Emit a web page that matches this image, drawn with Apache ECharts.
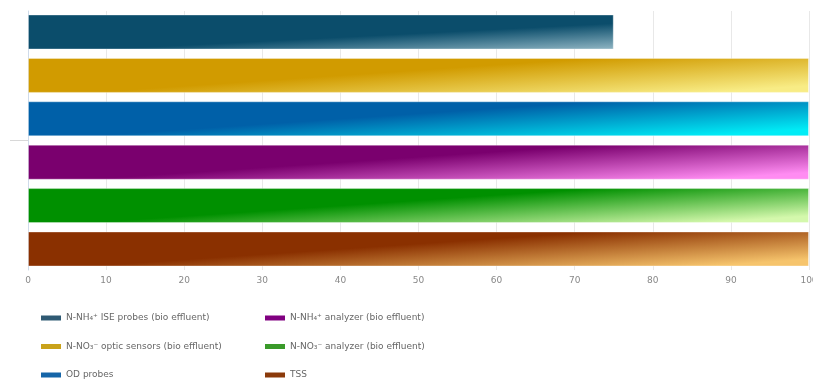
<!DOCTYPE html>
<html>
<head>
<meta charset="utf-8">
<script src="https://cdn.jsdelivr.net/npm/echarts@6/dist/echarts.min.js"></script>
<style>html,body{margin:0;padding:0;background:#fff;}#chart{width:813px;height:382px;}</style>
</head>
<body>
<div id="chart"></div>
<script>
var categories = [''];
var seriesNames = [
  'N-NH\u2084\u207A ISE probes (bio effluent)',
  'N-NO\u2083\u207B optic sensors (bio effluent)',
  'OD probes',
  'N-NH\u2084\u207A analyzer (bio effluent)',
  'N-NO\u2083\u207B analyzer (bio effluent)',
  'TSS'
];
var seriesValues = [75, 100, 100, 100, 100, 100];
var xTicks = [0, 10, 20, 30, 40, 50, 60, 70, 80, 90, 100];
var darkColors = ['#0b4d6b', '#d19b00', '#0060a8', '#7a006e', '#009000', '#8a3000'];
var lightColors = ['#e2f6fa', '#f8ec85', '#00ecf6', '#ff8cf2', '#d4f8ac', '#f6c46c'];
var legendColors = ['#2f5a73', '#c9a21a', '#1565a8', '#800080', '#3a9a2a', '#8b3a0a'];

function grad(i) {
  return {
    type: 'linear', x: 0, y: 0, x2: 0.007, y2: 2.3,
    colorStops: [
      { offset: 0, color: darkColors[i] },
      { offset: 0.48, color: darkColors[i] },
      { offset: 1, color: lightColors[i] }
    ]
  };
}

var series = seriesNames.map(function (name, i) {
  return {
    name: name,
    type: 'bar',
    data: [seriesValues[i]],
    barWidth: 35,
    barGap: '24%',
    color: legendColors[i],
    itemStyle: { color: grad(i), borderColor: 'rgba(255,255,255,0.35)', borderWidth: 1 },
    emphasis: { disabled: true }
  };
});

function legendData(from, to) {
  var out = [];
  for (var i = from; i < to; i++) {
    out.push({ name: seriesNames[i], itemStyle: { color: legendColors[i], borderWidth: 0 } });
  }
  return out;
}

var legendStyle = {
  orient: 'vertical',
  itemWidth: 20,
  itemHeight: 5,
  itemGap: 18.5,
  padding: 0,
  height: 70,
  icon: 'rect',
  textStyle: { fontSize: 9, color: '#666', fontFamily: 'DejaVu Sans', lineHeight: 10 },
  selectedMode: false
};

var chart = echarts.init(document.getElementById('chart'), null, { renderer: 'canvas' });
chart.setOption({
  animation: false,
  grid: { left: 28, right: 4, top: 11, height: 259, containLabel: false, outerBoundsMode: 'none' },
  legend: [
    Object.assign({ left: 41, top: 313, data: legendData(0, 3) }, legendStyle),
    Object.assign({ left: 265, top: 313, data: legendData(3, 6) }, legendStyle)
  ],
  xAxis: {
    type: 'value', min: xTicks[0], max: xTicks[xTicks.length - 1], interval: 10,
    axisLine: { show: false }, axisTick: { show: false },
    axisLabel: { color: '#888', fontSize: 9, margin: 6, fontFamily: 'DejaVu Sans', showMaxLabel: true },
    splitLine: { show: true, lineStyle: { color: '#e8e8e8', width: 1 } }
  },
  yAxis: {
    type: 'category', data: categories, inverse: true,
    axisLine: { show: true, lineStyle: { color: '#cfdbea', width: 1 } },
    axisTick: { show: true, alignWithLabel: true, length: 18, lineStyle: { color: '#d8d8d8' } },
    axisLabel: { show: false }
  },
  series: series
});
</script>
</body>
</html>
